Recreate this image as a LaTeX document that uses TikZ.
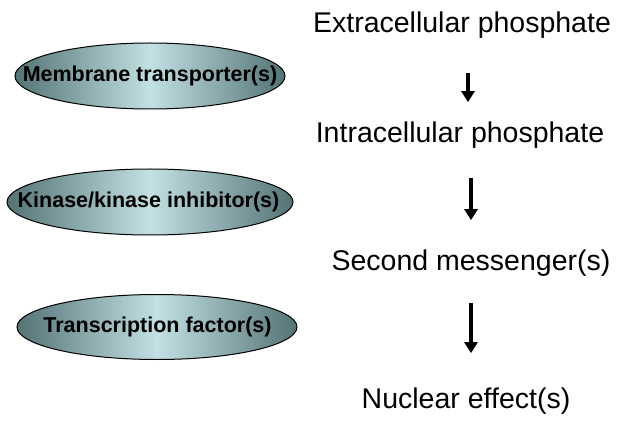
\documentclass[tikz,border=0pt]{standalone}
\usepackage{fontspec}
\setmainfont{Liberation Sans}
\usepackage{tikz}
\usetikzlibrary{positioning,shapes,arrows.meta}
\definecolor{ovedge}{rgb}{0.33,0.45,0.46}
\definecolor{ovmid}{rgb}{0.76,0.88,0.89}
\tikzstyle{ov}=[%
      ellipse, draw=black, line width=1pt, shade,
      left color=ovedge, right color=ovedge, middle color=ovmid,
      inner sep=0pt
]
\tikzstyle{ovtext}=[%
      inner sep=0pt, font=\fontsize{21.5}{25}\selectfont\bfseries
]
\tikzstyle{st}=[%
      inner sep=0pt, anchor=base, font=\fontsize{28.5}{34}\selectfont
]
\tikzstyle{flow}=[%
      line width=3.5pt, -{Triangle[length=11pt,width=13pt]}
]

\begin{document}
\begin{tikzpicture}[x=1pt,y=-1pt]
    \useasboundingbox (0,0) rectangle (624,422);

    % pathway steps
    \node[st] (ext) at (462,33)  {Extracellular phosphate};
    \node[st] (int) at (460,143) {Intracellular phosphate};
    \node[st] (sec) at (471,270) {Second messenger(s)};
    \node[st] (nuc) at (466,408) {Nuclear effect(s)};

    % players
    \node[ov, minimum width=270pt, minimum height=66pt] (mt) at (150,76)  {};
    \node[ov, minimum width=286pt, minimum height=66pt] (ki) at (150,202) {};
    \node[ov, minimum width=280pt, minimum height=65pt] (tf) at (157,327) {};
    \node[ovtext] (mtl) at (mt) {Membrane transporter(s)};
    \node[ovtext] (kil) at (148.5,202) {Kinase/kinase inhibitor(s)};
    \node[ovtext] (tfl) at (157.5,327) {Transcription factor(s)};

    \coordinate (c1) at (468,0);
    \coordinate (c2) at (471,0);

    \draw[flow, shorten <=34pt, shorten >=20pt] (ext.south -| c1) -- (int.north -| c1);
    \draw[flow, shorten <=29pt, shorten >=29pt] (int.south -| c2) -- (sec.north -| c2);
    \draw[flow, shorten <=27pt, shorten >=34pt] (sec.south -| c2) -- (nuc.north -| c2);

  \end{tikzpicture}
\end{document}
